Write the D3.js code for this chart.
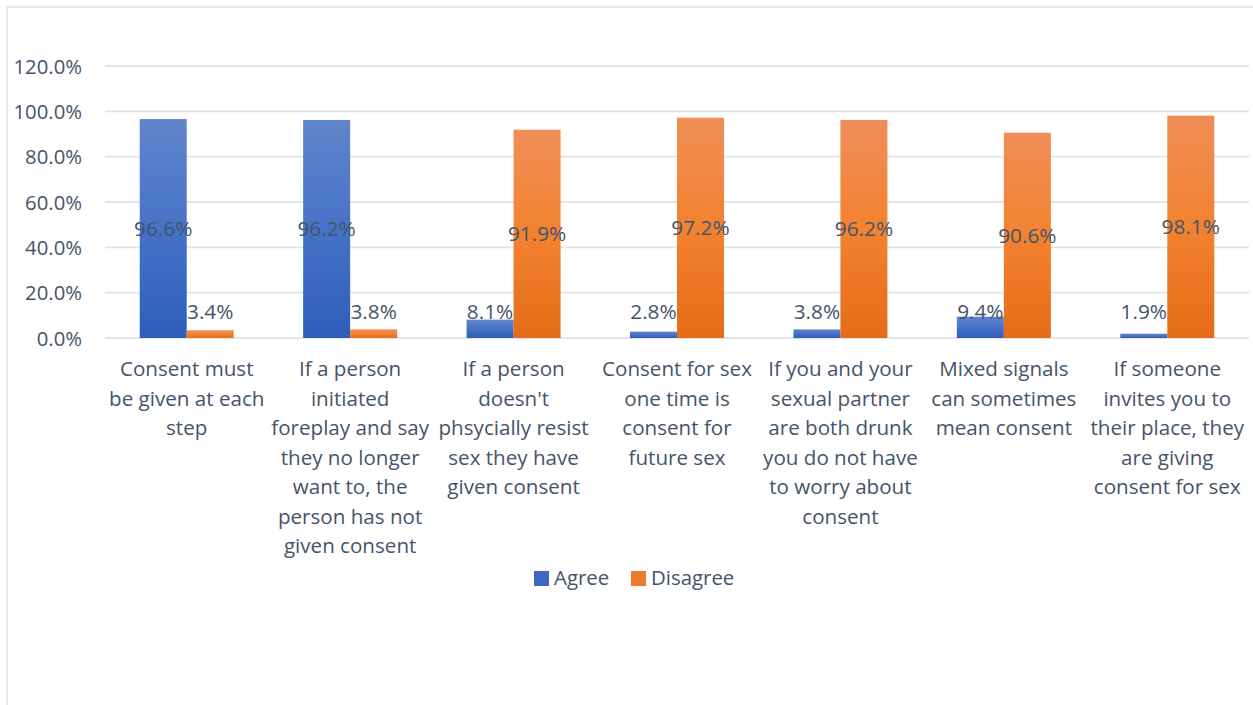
<!DOCTYPE html>
<html>
<head>
<meta charset="utf-8">
<script src="https://cdn.jsdelivr.net/npm/d3@7"></script>
<style>
  html, body { margin: 0; padding: 0; background: #fff; }
  svg { display: block; }
  text { font-family: "Open Sans", "Lato", sans-serif; fill: #44546A; }
</style>
</head>
<body>
<svg id="chart" width="1253" height="705"></svg>
<script>
const categories = [
  ["Consent must", "be given at each", "step"],
  ["If a person", "initiated", "foreplay and say", "they no longer", "want to, the", "person has not", "given consent"],
  ["If a person", "doesn't", "phsycially resist", "sex they have", "given consent"],
  ["Consent for sex", "one time is", "consent for", "future sex"],
  ["If you and your", "sexual partner", "are both drunk", "you do not have", "to worry about", "consent"],
  ["Mixed signals", "can sometimes", "mean consent"],
  ["If someone", "invites you to", "their place, they", "are giving", "consent for sex"]
];
const seriesNames = ["Agree", "Disagree"];
const agree = [0.966, 0.962, 0.081, 0.028, 0.038, 0.094, 0.019];
const disagree = [0.034, 0.038, 0.919, 0.972, 0.962, 0.906, 0.981];
const yTicks = [0, 0.2, 0.4, 0.6, 0.8, 1.0, 1.2];

const svg = d3.select("#chart");

// gradients
const defs = svg.append("defs");
function grad(id, c1, c2, c3) {
  const g = defs.append("linearGradient").attr("id", id)
    .attr("x1", 0).attr("y1", 0).attr("x2", 0).attr("y2", 1);
  g.append("stop").attr("offset", "0%").attr("stop-color", c1);
  g.append("stop").attr("offset", "50%").attr("stop-color", c2);
  g.append("stop").attr("offset", "100%").attr("stop-color", c3);
}
grad("gBlue", "#6185CB", "#4672C7", "#2E5DBA");
grad("gOrange", "#F08E58", "#F38230", "#E46C17");
const fills = ["url(#gBlue)", "url(#gOrange)"];
const legendFills = ["#3D69C0", "#EE7A2C"];

// frame
svg.append("rect").attr("x", 7).attr("y", 7).attr("width", 1260).attr("height", 720)
  .attr("fill", "none").attr("stroke", "#E1E4E8").attr("stroke-width", 1.5);

const idx = d3.range(categories.length);
const x = d3.scaleBand().domain(idx).range([105, 1249]).padding(0);
const barW = 47;
const y = d3.scaleLinear().domain([0, 1.2]).range([338, 66]);

// gridlines
svg.append("g").selectAll("line").data(yTicks).join("line")
  .attr("x1", 105).attr("x2", 1249)
  .attr("y1", d => y(d)).attr("y2", d => y(d))
  .attr("stroke", "#E1E4E8").attr("stroke-width", 1.8);

// y axis labels
const yAxis = d3.axisLeft(y).tickValues(yTicks).tickSize(0).tickPadding(0)
  .tickFormat(d => (d * 100).toFixed(1) + "%");
const ya = svg.append("g").attr("transform", "translate(82,0)").call(yAxis);
ya.select(".domain").remove();
ya.selectAll("text").style("font-size", "20.3px").style("font-family", "'Open Sans', sans-serif")
  .attr("fill", "#44546A").attr("dy", "0.35em");

const series = [agree, disagree];
series.forEach((vals, s) => {
  const g = svg.append("g");
  g.selectAll("rect").data(vals).join("rect")
    .attr("x", (d, i) => x(i) + (x.bandwidth() - 2 * barW) / 2 + s * barW)
    .attr("width", barW)
    .attr("y", d => y(d))
    .attr("height", d => y(0) - y(d))
    .attr("fill", fills[s]);
  g.selectAll("text").data(vals).join("text")
    .attr("x", (d, i) => x(i) + (x.bandwidth() - 2 * barW) / 2 + s * barW + barW / 2)
    .attr("y", d => d > 0.5 ? (y(d) + y(0)) / 2 : y(0) - 26)
    .attr("dy", "0.35em")
    .attr("text-anchor", "middle")
    .style("font-size", "20.8px")
    .text(d => (d * 100).toFixed(1) + "%");
});

// category labels
const cat = svg.append("g");
categories.forEach((lines, i) => {
  const t = cat.append("text")
    .attr("text-anchor", "middle")
    .style("font-size", "20.6px");
  lines.forEach((ln, j) => {
    t.append("tspan").attr("x", x(i) + x.bandwidth() / 2).attr("y", 376 + j * 29.5).text(ln);
  });
});

// legend
const lg = svg.append("g");
const legendX = [534, 631];
seriesNames.forEach((n, s) => {
  lg.append("rect").attr("x", legendX[s]).attr("y", 571).attr("width", 15).attr("height", 15)
    .attr("fill", legendFills[s]);
  lg.append("text").attr("x", legendX[s] + 20).attr("y", 578).attr("dy", "0.35em")
    .style("font-size", "20.4px").text(n);
});
</script>
</body>
</html>
